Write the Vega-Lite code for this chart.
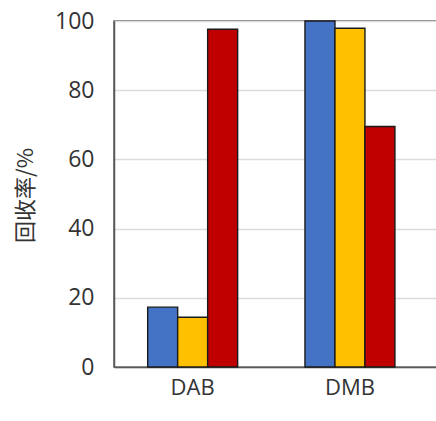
{
  "$schema": "https://vega.github.io/schema/vega-lite/v6.json",
  "width": 330,
  "height": 346,
  "autosize": {"type": "none"},
  "padding": {"left": 114, "top": 21, "right": 0, "bottom": 54},
  "background": "white",
  "data": {
    "values": [
      {"cat": "DAB", "series": "1", "value": 17.3},
      {"cat": "DAB", "series": "2", "value": 14.4},
      {"cat": "DAB", "series": "3", "value": 97.6},
      {"cat": "DMB", "series": "1", "value": 100},
      {"cat": "DMB", "series": "2", "value": 97.9},
      {"cat": "DMB", "series": "3", "value": 69.5}
    ]
  },
  "config": {
    "view": {"stroke": "#595959", "strokeWidth": 1.5},
    "font": "Open Sans"
  },
  "mark": {"type": "bar", "stroke": "#1a1a1a", "strokeWidth": 1.4},
  "encoding": {
    "x": {
      "field": "cat",
      "type": "nominal",
      "sort": ["DAB", "DMB"],
      "scale": {"paddingInner": 0.428, "paddingOuter": 0.263, "align": 0.407},
      "axis": {
        "title": null,
        "labelAngle": 0,
        "ticks": false,
        "domain": true,
        "domainColor": "#595959",
        "domainWidth": 1.5,
        "labelFontSize": 22,
        "labelColor": "#333333",
        "labelPadding": 10,
        "labelFont": "Open Sans"
      }
    },
    "xOffset": {
      "field": "series",
      "type": "nominal",
      "scale": {"paddingInner": 0, "paddingOuter": 0}
    },
    "y": {
      "field": "value",
      "type": "quantitative",
      "scale": {"domain": [0, 100], "nice": false},
      "axis": {
        "title": "回收率/%",
        "titleFont": "Noto Sans CJK SC",
        "titleFontSize": 22,
        "titleFontWeight": "normal",
        "titleColor": "#333333",
        "titleAngle": -90,
        "titleBaseline": "bottom",
        "titleAlign": "center",
        "titleX": -77,
        "titleY": 174,
        "values": [0, 20, 40, 60, 80, 100],
        "ticks": false,
        "labelFontSize": 23,
        "labelColor": "#333333",
        "labelPadding": 20,
        "labelFont": "Open Sans",
        "domainColor": "#595959",
        "domainWidth": 1.5,
        "grid": true,
        "gridColor": "#dcdcdc",
        "gridWidth": 1.3
      }
    },
    "color": {
      "field": "series",
      "type": "nominal",
      "scale": {"domain": ["1", "2", "3"], "range": ["#4472C4", "#FFC000", "#C00000"]},
      "legend": null
    }
  }
}
